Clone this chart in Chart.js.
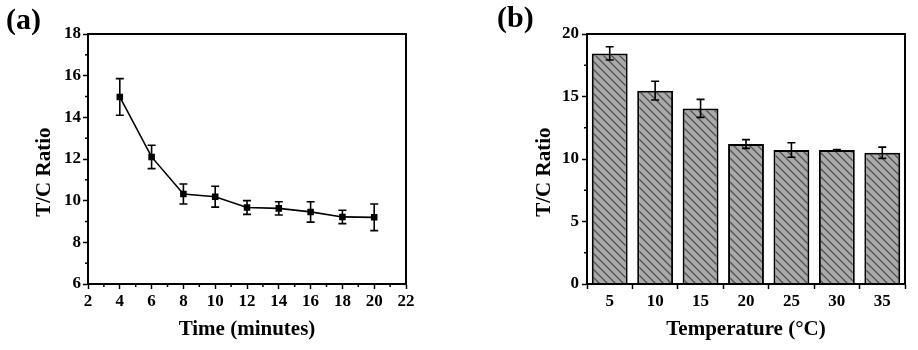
<!DOCTYPE html>
<html lang="en">
<head>
  <meta charset="UTF-8" />
  <title>T/C Ratio vs Time and Temperature</title>
  <script src="https://cdn.jsdelivr.net/npm/chart.js"></script>
  <style>
    html, body { margin: 0; padding: 0; background: #fff; }
    #wrap { position: relative; width: 918px; height: 350px; overflow: hidden; }
    .panel { position: absolute; top: 0; height: 350px; }
    .tag { position: absolute; font: bold 30px 'Liberation Serif', serif; line-height: 30px; color: #000; }
  </style>
</head>
<body>
  <div id="wrap">
    <div class="panel" style="left:0;width:460px"><canvas id="timeChart" width="460" height="350"></canvas></div>
    <div class="panel" style="left:460px;width:458px"><canvas id="tempChart" width="458" height="350"></canvas></div>
    <div class="tag" style="left:6px;top:4px">(a)</div>
    <div class="tag" style="left:497px;top:2px">(b)</div>
  </div>

  <script>
    // (a) T/C ratio over time
    const times    = [4, 6, 8, 10, 12, 14, 16, 18, 20];
    const timeTC   = [14.98, 12.1, 10.32, 10.19, 9.67, 9.63, 9.46, 9.22, 9.2];
    const timeErr  = [0.88, 0.56, 0.48, 0.5, 0.33, 0.32, 0.49, 0.32, 0.64];

    // (b) T/C ratio over temperature
    const temps    = ['5', '10', '15', '20', '25', '30', '35'];
    const tempTC   = [18.45, 15.47, 14.05, 11.2, 10.72, 10.72, 10.5];
    const tempErr  = [0.53, 0.75, 0.72, 0.35, 0.58, 0.03, 0.45];

    Chart.defaults.font.family = "'Liberation Serif', serif";
    Chart.defaults.font.weight = 'bold';
    Chart.defaults.color = '#000';

    const tickFont  = { size: 17, weight: 'bold' };
    const titleFont = { size: 21, weight: 'bold' };

    // error bars from the chart's own y scale
    const errorBars = {
      id: 'errorBars',
      afterDatasetsDraw(chart, args, opts) {
        const errs = opts.errors || [];
        const ys = chart.scales.y;
        const ctx = chart.ctx;
        const ds = chart.data.datasets[0].data;
        const meta = chart.getDatasetMeta(0);
        ctx.save();
        ctx.strokeStyle = '#000';
        ctx.lineWidth = 1.6;
        meta.data.forEach((el, i) => {
          const v = typeof ds[i] === 'object' ? ds[i].y : ds[i];
          const top = ys.getPixelForValue(v + errs[i]);
          const bot = ys.getPixelForValue(v - errs[i]);
          const x = el.x;
          ctx.beginPath();
          ctx.moveTo(x, top); ctx.lineTo(x, bot);
          ctx.moveTo(x - 4, top); ctx.lineTo(x + 4, top);
          ctx.moveTo(x - 4, bot); ctx.lineTo(x + 4, bot);
          ctx.stroke();
        });
        ctx.restore();
      }
    };

    // box frame + short minor ticks between major ones
    const frame = {
      id: 'frame',
      afterDraw(chart, args, opts) {
        const { ctx, chartArea: a } = chart;
        ctx.save();
        ctx.strokeStyle = '#000';
        ctx.lineWidth = 1.5;
        (opts.minor || []).forEach(id => {
          const s = chart.scales[id];
          const t = s.ticks.map(k => k.value);
          for (let i = 0; i < t.length - 1; i++) {
            const p = s.getPixelForValue((t[i] + t[i + 1]) / 2);
            ctx.beginPath();
            if (s.isHorizontal()) { ctx.moveTo(p, a.bottom); ctx.lineTo(p, a.bottom + 3); }
            else { ctx.moveTo(a.left, p); ctx.lineTo(a.left - 3, p); }
            ctx.stroke();
          }
        });
        ctx.lineWidth = 2;
        ctx.strokeRect(a.left, a.top, a.right - a.left, a.bottom - a.top);
        ctx.restore();
      }
    };

    function axisGrid() {
      return { drawOnChartArea: false, drawTicks: true, tickLength: 5, tickWidth: 1.5, tickColor: '#000' };
    }

    function hatch() {
      const c = document.createElement('canvas');
      c.width = c.height = 8;
      const g = c.getContext('2d');
      g.fillStyle = '#aaaaaa';
      g.fillRect(0, 0, 8, 8);
      g.strokeStyle = '#505050';
      g.lineWidth = 1.3;
      g.beginPath();
      g.moveTo(-2, -2); g.lineTo(10, 10);
      g.moveTo(-2, 6);  g.lineTo(2, 10);
      g.moveTo(6, -2);  g.lineTo(10, 2);
      g.stroke();
      return g.createPattern(c, 'repeat');
    }

    new Chart(document.getElementById('timeChart'), {
      type: 'line',
      data: {
        datasets: [{
          data: times.map((t, i) => ({ x: t, y: timeTC[i] })),
          borderColor: '#000',
          borderWidth: 1.6,
          pointStyle: 'rect',
          pointRadius: 3.5,
          pointBackgroundColor: '#000',
          pointBorderColor: '#000',
          tension: 0,
        }],
      },
      options: {
        responsive: false,
        animation: false,
        layout: { padding: { top: 34, right: 54, bottom: 0, left: 0 } },
        plugins: {
          legend: { display: false },
          tooltip: { enabled: false },
          errorBars: { errors: timeErr },
          frame: { minor: ['x', 'y'] },
        },
        scales: {
          x: {
            type: 'linear', min: 2, max: 22,
            ticks: { stepSize: 2, font: tickFont, padding: 2, maxRotation: 0 },
            grid: axisGrid(),
            border: { display: true, width: 2, color: '#000' },
            title: { display: true, text: 'Time (minutes)', font: titleFont, padding: { bottom: 8 } },
            afterFit: s => { s.height = 66; },
          },
          y: {
            min: 6, max: 18,
            ticks: { stepSize: 2, font: tickFont, padding: 2 },
            grid: axisGrid(),
            border: { display: true, width: 2, color: '#000' },
            title: { display: true, text: 'T/C Ratio     ', font: titleFont, padding: { top: 32 } },
            afterFit: s => { s.width = 88; },
          },
        },
      },
      plugins: [errorBars, frame],
    });

    new Chart(document.getElementById('tempChart'), {
      type: 'bar',
      data: {
        labels: temps,
        datasets: [{
          data: tempTC,
          backgroundColor: hatch(),
          borderColor: '#000',
          borderWidth: 2,
          barPercentage: 0.79,
          categoryPercentage: 1.0,
        }],
      },
      options: {
        responsive: false,
        animation: false,
        layout: { padding: { top: 34, right: 13, bottom: 0, left: 0 } },
        plugins: {
          legend: { display: false },
          tooltip: { enabled: false },
          errorBars: { errors: tempErr },
          frame: { minor: ['y'] },
        },
        scales: {
          x: {
            ticks: { font: tickFont, padding: 2, maxRotation: 0 },
            grid: Object.assign(axisGrid(), { offset: true }),
            border: { display: true, width: 2, color: '#000' },
            title: { display: true, text: 'Temperature (°C)', font: titleFont, padding: { bottom: 8 } },
            afterFit: s => { s.height = 66; },
          },
          y: {
            min: 0, max: 20,
            ticks: { stepSize: 5, font: tickFont, padding: 3 },
            grid: axisGrid(),
            border: { display: true, width: 2, color: '#000' },
            title: { display: true, text: 'T/C Ratio     ', font: titleFont, padding: { top: 72 } },
            afterFit: s => { s.width = 127; },
          },
        },
      },
      plugins: [errorBars, frame],
    });
  </script>
</body>
</html>
